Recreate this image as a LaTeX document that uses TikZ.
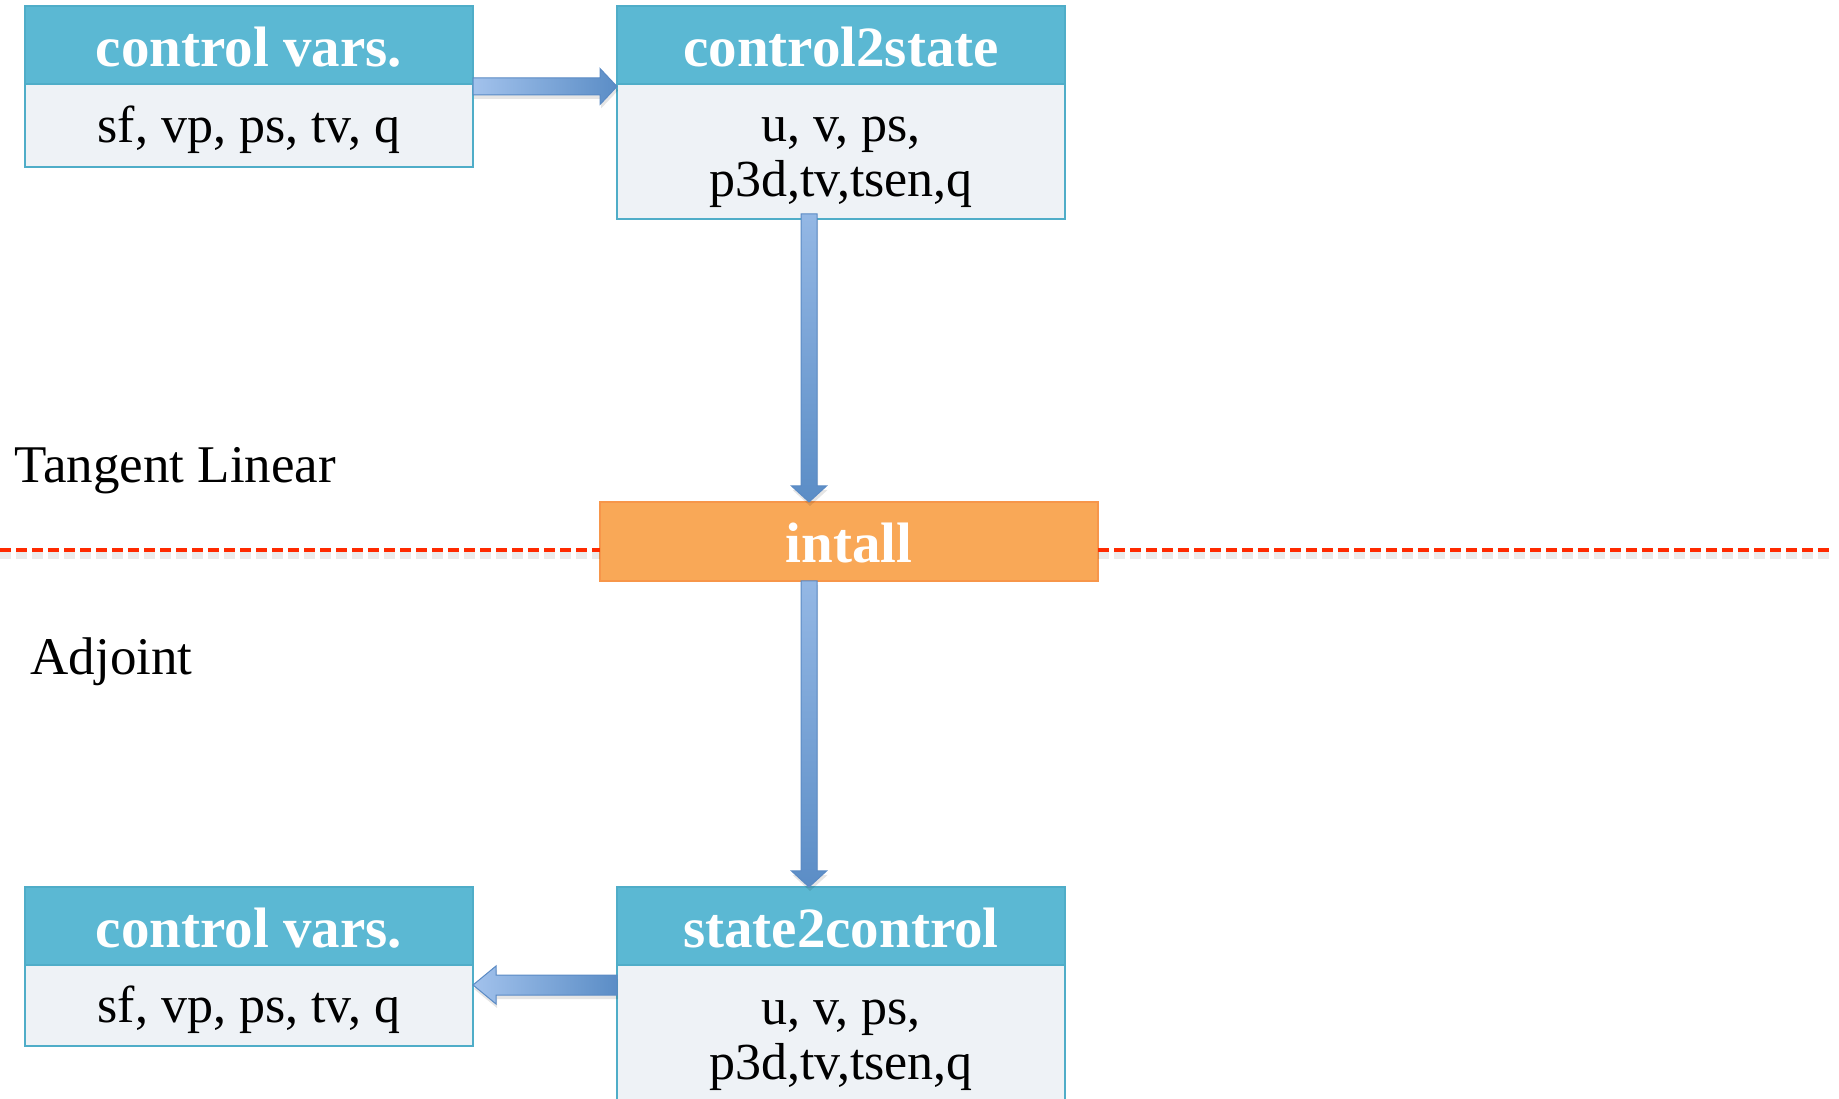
\documentclass[tikz,border=0pt]{standalone}
\usepackage{fontspec}
\setmainfont{Liberation Serif}
\usetikzlibrary{positioning,calc}

\definecolor{hdrblue}{HTML}{5BB8D3}
\definecolor{boxline}{HTML}{4FADC8}
\definecolor{bodyfill}{HTML}{EEF2F6}
\definecolor{intfill}{HTML}{F9A857}
\definecolor{intline}{HTML}{F7964A}
\definecolor{cutred}{HTML}{FF2A00}
\definecolor{arrlight}{HTML}{A2C2EC}
\definecolor{arrdark}{HTML}{5B8DC6}
\definecolor{arrline}{HTML}{5A8AC4}

\newcommand{\bodystrut}{\rule{0pt}{46pt}}

\tikzset{
  head/.style={draw=boxline, line width=2pt, fill=hdrblue, text=white, outer sep=0pt,
    minimum width=448pt, minimum height=78pt, inner sep=0pt,
    execute at begin node={\rule{0pt}{43pt}},
    font=\fontsize{57}{60}\selectfont\bfseries},
  body/.style={draw=boxline, line width=2pt, fill=bodyfill, outer sep=0pt,
    minimum width=448pt, inner sep=0pt, align=center,
    font=\fontsize{52}{55}\selectfont},
  side/.style={anchor=west, font=\fontsize{53}{56}\selectfont},
  fatarr/.style={draw=arrline, line width=1pt},
  cutline/.style={cutred, line width=4pt, dash pattern=on 11pt off 5pt},
  cutshadow/.style={black, opacity=0.08, line width=7pt, dash pattern=on 11pt off 5pt},
}

% #2 -> #3, shaft half width #4, head half width #5, head length #6
\newcommand{\fatarrow}[6][]{%
  \coordinate (fah) at ($(#3)!#6pt!(#2)$);
  \fill[black, opacity=0.1, transform canvas={shift={(1pt,-4pt)}}]
    ($(#2)!#4pt!90:(#3)$) -- ($(fah)!#4pt!90:(#3)$)
    -- ($(fah)!#5pt!90:(#3)$) -- (#3) -- ($(fah)!#5pt!-90:(#3)$)
    -- ($(fah)!#4pt!-90:(#3)$) -- ($(#2)!#4pt!-90:(#3)$) -- cycle;
  \path[fatarr,#1] ($(#2)!#4pt!90:(#3)$) -- ($(fah)!#4pt!90:(#3)$)
    -- ($(fah)!#5pt!90:(#3)$) -- (#3) -- ($(fah)!#5pt!-90:(#3)$)
    -- ($(fah)!#4pt!-90:(#3)$) -- ($(#2)!#4pt!-90:(#3)$) -- cycle;
}

\begin{document}
\begin{tikzpicture}[x=1pt,y=1pt]
  \useasboundingbox (0,0) rectangle (1839,1098);

  \coordinate (cutl) at (0,548);
  \coordinate (cutr) at (1830,548);

  \node[head] (cvtoph) at (249,1053) {control vars.};
  \node[body, minimum height=83pt, below=0pt of cvtoph] (cvtop) {\bodystrut sf, vp, ps, tv, q};

  \node[head] (ctsh) at (841,1053) {control2state};
  \node[body, minimum height=135pt, below=0pt of ctsh] (cts) {\bodystrut u, v, ps,\\p3d,tv,tsen,q};

  \node[head] (cvboth) at (249,172) {control vars.};
  \node[body, minimum height=81pt, below=0pt of cvboth] (cvbot) {\bodystrut sf, vp, ps, tv, q};

  \node[head] (stch) at (841,172) {state2control};
  \node[body, minimum height=140pt, below=0pt of stch] (stc) {\bodystrut u, v, ps,\\p3d,tv,tsen,q};

  \node[side] (tl) at (11,627) {Tangent Linear};
  \node[side] (adj) at (27,436) {Adjoint};

  \node[draw=intline, line width=2pt, fill=intfill, text=white, outer sep=0pt,
    minimum width=498pt, minimum height=79pt, inner sep=0pt,
    font=\fontsize{57}{60}\selectfont\bfseries] (intall) at (849,556.5) {\rule{0pt}{42pt}intall};

  \begin{scope}[transform canvas={yshift=-6pt}]
    \draw[cutshadow] (cutl) -- (cutl -| intall.west);
    \draw[cutshadow] (intall.east |- cutr) -- (cutr);
  \end{scope}
  \draw[cutline] (cutl) -- (cutl -| intall.west);
  \draw[cutline] (intall.east |- cutr) -- (cutr);

  \coordinate (a1s) at ($(cvtoph.south east)+(0,-2.5)$);
  \coordinate (a1e) at (a1s -| ctsh.west);
  \fatarrow[left color=arrlight, right color=arrdark]{a1s}{a1e}{8.5}{18}{17}

  \coordinate (a2s) at ($(cts.south)+(-32,5)$);
  \coordinate (a2e) at (a2s |- intall.north);
  \fatarrow[top color=arrlight!80!arrdark, bottom color=arrdark]{a2s}{a2e}{8}{17.5}{16}

  \coordinate (a3s) at (a2s |- intall.south);
  \coordinate (a3e) at (a2s |- stch.north);
  \fatarrow[top color=arrlight!80!arrdark, bottom color=arrdark]{a3s}{a3e}{8}{17.5}{16}

  \coordinate (a4s) at ($(stch.south west)+(0,-20)$);
  \coordinate (a4e) at (a4s -| cvboth.east);
  \fatarrow[left color=arrlight, right color=arrdark]{a4s}{a4e}{10}{19}{23}
\end{tikzpicture}
\end{document}
